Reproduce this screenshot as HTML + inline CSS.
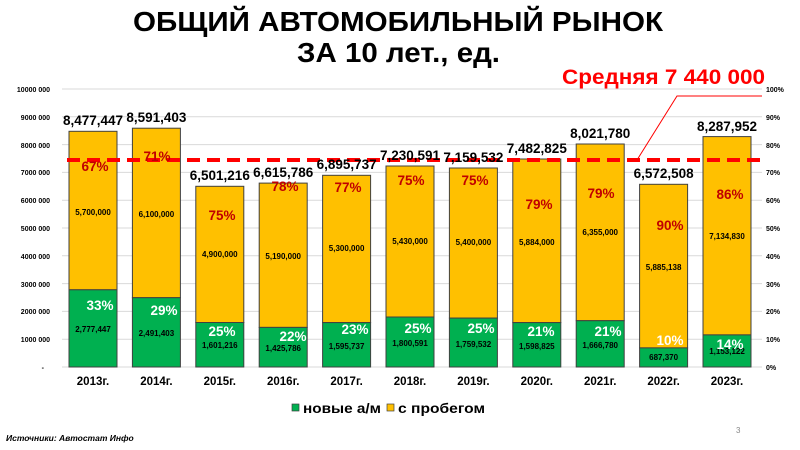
<!DOCTYPE html>
<html><head><meta charset="utf-8"><style>
html,body{margin:0;padding:0;background:#fff;}
svg{display:block;font-family:"Liberation Sans","DejaVu Sans",sans-serif;font-weight:bold;}
</style></head><body>
<svg width="800" height="450" viewBox="0 0 800 450">
<text x="133" y="31" font-size="28" fill="#000" textLength="530" lengthAdjust="spacingAndGlyphs">ОБЩИЙ АВТОМОБИЛЬНЫЙ РЫНОК</text>
<text x="297" y="62" font-size="28" fill="#000" textLength="203" lengthAdjust="spacingAndGlyphs">ЗА 10 лет., ед.</text>
<g stroke="#d9d9d9" stroke-width="1">
<line x1="62" y1="89" x2="762" y2="89"/><line x1="62" y1="116.8" x2="762" y2="116.8"/><line x1="62" y1="144.6" x2="762" y2="144.6"/><line x1="62" y1="172.4" x2="762" y2="172.4"/><line x1="62" y1="200.2" x2="762" y2="200.2"/><line x1="62" y1="228" x2="762" y2="228"/><line x1="62" y1="255.8" x2="762" y2="255.8"/><line x1="62" y1="283.6" x2="762" y2="283.6"/><line x1="62" y1="311.4" x2="762" y2="311.4"/><line x1="62" y1="339.2" x2="762" y2="339.2"/><line x1="62" y1="367" x2="762" y2="367"/>
</g>
<g font-size="7" fill="#000" text-anchor="end">
<text x="50" y="92">10000 000</text><text x="50" y="120">9000 000</text><text x="50" y="148">8000 000</text><text x="50" y="175">7000 000</text><text x="50" y="203">6000 000</text><text x="50" y="231">5000 000</text><text x="50" y="259">4000 000</text><text x="50" y="287">3000 000</text><text x="50" y="314">2000 000</text><text x="50" y="342">1000 000</text><text x="44" y="370">-</text>
</g>
<g font-size="7" fill="#000">
<text x="766" y="92">100%</text><text x="766" y="120">90%</text><text x="766" y="148">80%</text><text x="766" y="175">70%</text><text x="766" y="203">60%</text><text x="766" y="231">50%</text><text x="766" y="259">40%</text><text x="766" y="287">30%</text><text x="766" y="314">20%</text><text x="766" y="342">10%</text><text x="766" y="370">0%</text>
</g>
<g stroke="#404040" stroke-width="1">
<rect x="69" y="131.3" width="48" height="158.5" fill="#ffc000"/><rect x="69" y="289.8" width="48" height="77.2" fill="#00b050"/>
<rect x="132.4" y="128.2" width="48" height="169.5" fill="#ffc000"/><rect x="132.4" y="297.7" width="48" height="69.3" fill="#00b050"/>
<rect x="195.8" y="186.3" width="48" height="136.2" fill="#ffc000"/><rect x="195.8" y="322.5" width="48" height="44.5" fill="#00b050"/>
<rect x="259.2" y="183.1" width="48" height="144.3" fill="#ffc000"/><rect x="259.2" y="327.4" width="48" height="39.6" fill="#00b050"/>
<rect x="322.6" y="175.3" width="48" height="147.3" fill="#ffc000"/><rect x="322.6" y="322.6" width="48" height="44.4" fill="#00b050"/>
<rect x="386" y="166" width="48" height="151" fill="#ffc000"/><rect x="386" y="317" width="48" height="50" fill="#00b050"/>
<rect x="449.4" y="168" width="48" height="150.1" fill="#ffc000"/><rect x="449.4" y="318.1" width="48" height="48.9" fill="#00b050"/>
<rect x="512.8" y="159" width="48" height="163.6" fill="#ffc000"/><rect x="512.8" y="322.6" width="48" height="44.4" fill="#00b050"/>
<rect x="576.2" y="144" width="48" height="176.7" fill="#ffc000"/><rect x="576.2" y="320.7" width="48" height="46.3" fill="#00b050"/>
<rect x="639.6" y="184.3" width="48" height="163.6" fill="#ffc000"/><rect x="639.6" y="347.9" width="48" height="19.1" fill="#00b050"/>
<rect x="703" y="136.6" width="48" height="198.3" fill="#ffc000"/><rect x="703" y="334.9" width="48" height="32.1" fill="#00b050"/>
</g>
<line x1="67" y1="160" x2="762" y2="160" stroke="#ff0000" stroke-width="4" stroke-dasharray="13,7"/>
<polyline points="637,160 677,96 762,96" fill="none" stroke="#ff0000" stroke-width="1"/>
<text x="562" y="84" font-size="21" fill="#ff0000" textLength="203" lengthAdjust="spacingAndGlyphs">Средняя 7 440 000</text>
<g font-size="13.5" fill="#000" text-anchor="middle">
<text x="93" y="125">8,477,447</text><text x="156.4" y="122">8,591,403</text><text x="219.8" y="180">6,501,216</text><text x="283.2" y="177">6,615,786</text><text x="346.6" y="169">6,895,737</text><text x="410" y="160">7,230,591</text><text x="473.4" y="162">7,159,532</text><text x="536.8" y="153">7,482,825</text><text x="600.2" y="138">8,021,780</text><text x="663.6" y="178">6,572,508</text><text x="727" y="131">8,287,952</text>
</g>
<g font-size="13.5" fill="#c00000" text-anchor="middle">
<text x="95" y="171">67%</text><text x="157" y="161">71%</text><text x="222" y="220">75%</text><text x="285" y="191">78%</text><text x="348" y="192">77%</text><text x="411" y="185">75%</text><text x="475" y="185">75%</text><text x="539" y="209">79%</text><text x="601" y="198">79%</text><text x="670" y="230">90%</text><text x="730" y="199">86%</text>
</g>
<g font-size="8" fill="#000" text-anchor="middle">
<text x="93" y="215">5,700,000</text><text x="156.4" y="217">6,100,000</text><text x="219.8" y="257">4,900,000</text><text x="283.2" y="259">5,190,000</text><text x="346.6" y="251">5,300,000</text><text x="410" y="244">5,430,000</text><text x="473.4" y="245">5,400,000</text><text x="536.8" y="245">5,884,000</text><text x="600.2" y="235">6,355,000</text><text x="663.6" y="270">5,885,138</text><text x="727" y="239">7,134,830</text>
<text x="93" y="332">2,777,447</text><text x="156.4" y="336">2,491,403</text><text x="219.8" y="348">1,601,216</text><text x="283.2" y="351">1,425,786</text><text x="346.6" y="349">1,595,737</text><text x="410" y="346">1,800,591</text><text x="473.4" y="347">1,759,532</text><text x="536.8" y="349">1,598,825</text><text x="600.2" y="348">1,666,780</text><text x="663.6" y="360">687,370</text><text x="727" y="354">1,153,122</text>
</g>
<g font-size="13.5" fill="#fff" text-anchor="middle">
<text x="100" y="310">33%</text><text x="164" y="315">29%</text><text x="222" y="336">25%</text><text x="293" y="341">22%</text><text x="355" y="334">23%</text><text x="418" y="333">25%</text><text x="481" y="333">25%</text><text x="541" y="336">21%</text><text x="608" y="336">21%</text><text x="670" y="345">10%</text><text x="730" y="349">14%</text>
</g>
<g font-size="11.5" fill="#000" text-anchor="middle">
<text x="93" y="385">2013г.</text><text x="156.4" y="385">2014г.</text><text x="219.8" y="385">2015г.</text><text x="283.2" y="385">2016г.</text><text x="346.6" y="385">2017г.</text><text x="410" y="385">2018г.</text><text x="473.4" y="385">2019г.</text><text x="536.8" y="385">2020г.</text><text x="600.2" y="385">2021г.</text><text x="663.6" y="385">2022г.</text><text x="727" y="385">2023г.</text>
</g>
<rect x="292" y="404" width="7" height="7" fill="#00b050" stroke="#404040" stroke-width="0.7"/>
<text x="303" y="413" font-size="14" fill="#000" textLength="78" lengthAdjust="spacingAndGlyphs">новые а/м</text>
<rect x="387" y="404" width="7" height="7" fill="#ffc000" stroke="#404040" stroke-width="0.7"/>
<text x="398" y="413" font-size="14" fill="#000" textLength="87" lengthAdjust="spacingAndGlyphs">с пробегом</text>
<text x="6" y="441" font-size="8.5" font-style="italic" fill="#000">Источники: Автостат Инфо</text>
<text x="736" y="433" font-size="8" font-weight="normal" fill="#888">3</text>
</svg>
</body></html>
